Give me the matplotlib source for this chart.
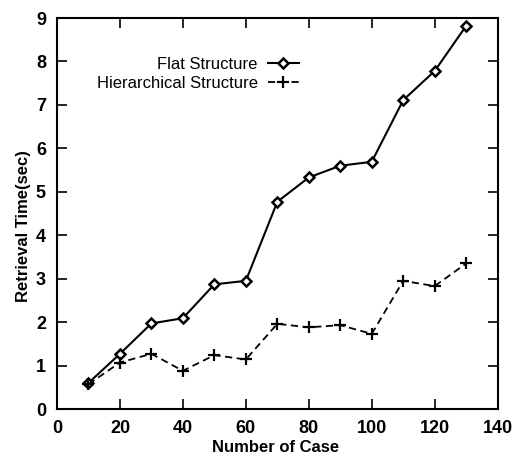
import matplotlib
matplotlib.use("Agg")
import matplotlib.pyplot as plt

plt.rcParams['font.family'] = ['Liberation Sans', 'DejaVu Sans']

cases = [10, 20, 30, 40, 50, 60, 70, 80, 90, 100, 110, 120, 130]
flat = [0.60, 1.27, 1.97, 2.09, 2.87, 2.95, 4.77, 5.33, 5.60, 5.69, 7.11, 7.78, 8.82]
hier = [0.57, 1.07, 1.27, 0.88, 1.24, 1.14, 1.96, 1.88, 1.93, 1.73, 2.95, 2.83, 3.35]
xticks = [0, 20, 40, 60, 80, 100, 120, 140]
yticks = [0, 1, 2, 3, 4, 5, 6, 7, 8, 9]

fig = plt.figure(figsize=(5.2, 4.57), dpi=100)
ax = fig.add_axes([0.1096, 0.105, 0.8474, 0.8556])

ax.plot(cases, flat, color='black', lw=1.5, marker='D', markersize=5,
        mfc='white', mec='black', mew=1.8, label='Flat Structure')
ax.plot(cases, hier, color='black', lw=1.3, ls=(0, (4, 2.5)), marker='+',
        markersize=9, mew=1.6, label='Hierarchical Structure')

ax.set_xlim(0, 140)
ax.set_ylim(0, 9)
ax.set_xticks(xticks)
ax.set_yticks(yticks)
ax.tick_params(direction='in', length=7, width=1.2, top=True, right=True,
               labelsize=13, pad=8)
for lab in ax.get_xticklabels() + ax.get_yticklabels():
    lab.set_fontweight('bold')
for s in ax.spines.values():
    s.set_linewidth(1.5)

ax.set_xlabel('Number of Case', fontsize=12, fontweight='bold')
ax.set_ylabel('Retrieval Time(sec)', fontsize=12, fontweight='bold')
ax.xaxis.set_label_coords(0.497, -0.078)
ax.yaxis.set_label_coords(-0.06, 0.468)

ax.legend(loc='upper right', bbox_to_anchor=(0.565, 0.918), frameon=False,
          markerfirst=False, fontsize=12, handlelength=1.9, handletextpad=0.6,
          labelspacing=0.25, borderaxespad=0)

fig.savefig('out.png', dpi=100)
